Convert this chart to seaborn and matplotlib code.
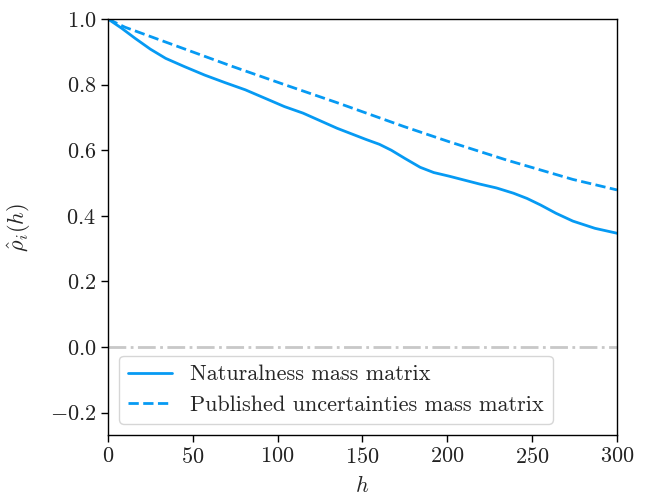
import matplotlib
matplotlib.use("Agg")
import matplotlib.pyplot as plt
import seaborn as sns
import pandas as pd

lag_nat = [0, 8, 16, 25, 34, 45, 57, 69, 81, 95, 104, 115, 125, 135, 152, 160, 167, 175, 184, 192, 201, 210, 219, 229, 239, 247, 255, 264, 274, 287, 300]
rho_nat = [1.0, 0.972, 0.941, 0.908, 0.880, 0.855, 0.829, 0.806, 0.784, 0.753, 0.733, 0.713, 0.690, 0.667, 0.633, 0.618, 0.600, 0.575, 0.548, 0.532, 0.521, 0.509, 0.497, 0.485, 0.469, 0.453, 0.433, 0.408, 0.384, 0.362, 0.347]

lag_pub = [0, 10, 37, 73, 104, 135, 174, 201, 235, 274, 300]
rho_pub = [1.0, 0.975, 0.924, 0.856, 0.800, 0.745, 0.673, 0.626, 0.570, 0.511, 0.479]

labels = ["Naturalness mass matrix", "Published uncertainties mass matrix"]
xticks = [0, 50, 100, 150, 200, 250, 300]
yticks = [-0.2, 0.0, 0.2, 0.4, 0.6, 0.8, 1.0]

sns.set_theme(style="ticks")
plt.rcParams["font.family"] = ["cmr10", "DejaVu Serif"]
plt.rcParams["mathtext.fontset"] = "cm"
plt.rcParams["axes.formatter.use_mathtext"] = True
plt.rcParams["axes.unicode_minus"] = True

color = "#069af3"
fig = plt.figure(figsize=(6.47, 4.97), dpi=100)
ax = fig.add_axes([0.1669, 0.1247, 0.7867, 0.8371])

df_nat = pd.DataFrame({"h": lag_nat, "rho": rho_nat})
df_pub = pd.DataFrame({"h": lag_pub, "rho": rho_pub})
ax.axhline(0, color="#c8c8c8", lw=2, ls="-.", zorder=1)
sns.lineplot(data=df_nat, x="h", y="rho", ax=ax, color=color, lw=2, label=labels[0])
sns.lineplot(data=df_pub, x="h", y="rho", ax=ax, color=color, lw=2, ls="--", label=labels[1])

ax.set_xlim(0, 300)
ax.set_ylim(-0.268, 1.0)
ax.set_xticks(xticks)
ax.set_yticks(yticks)
ax.tick_params(labelsize=16, direction="out", length=5, width=1, color="black", labelcolor="#222222")
for s in ax.spines.values():
    s.set_color("black")
    s.set_linewidth(1)
ax.set_xlabel(r"$h$", fontsize=16, labelpad=6)
ax.set_ylabel(r"$\hat{\rho}_i(h)$", fontsize=16, labelpad=12)
leg = ax.legend(loc="lower left", fontsize=16, frameon=True, fancybox=True, framealpha=0.8,
                edgecolor="#cccccc", handlelength=2.0, borderpad=0.4, labelspacing=0.5)
fig.savefig("out.png", dpi=100)
